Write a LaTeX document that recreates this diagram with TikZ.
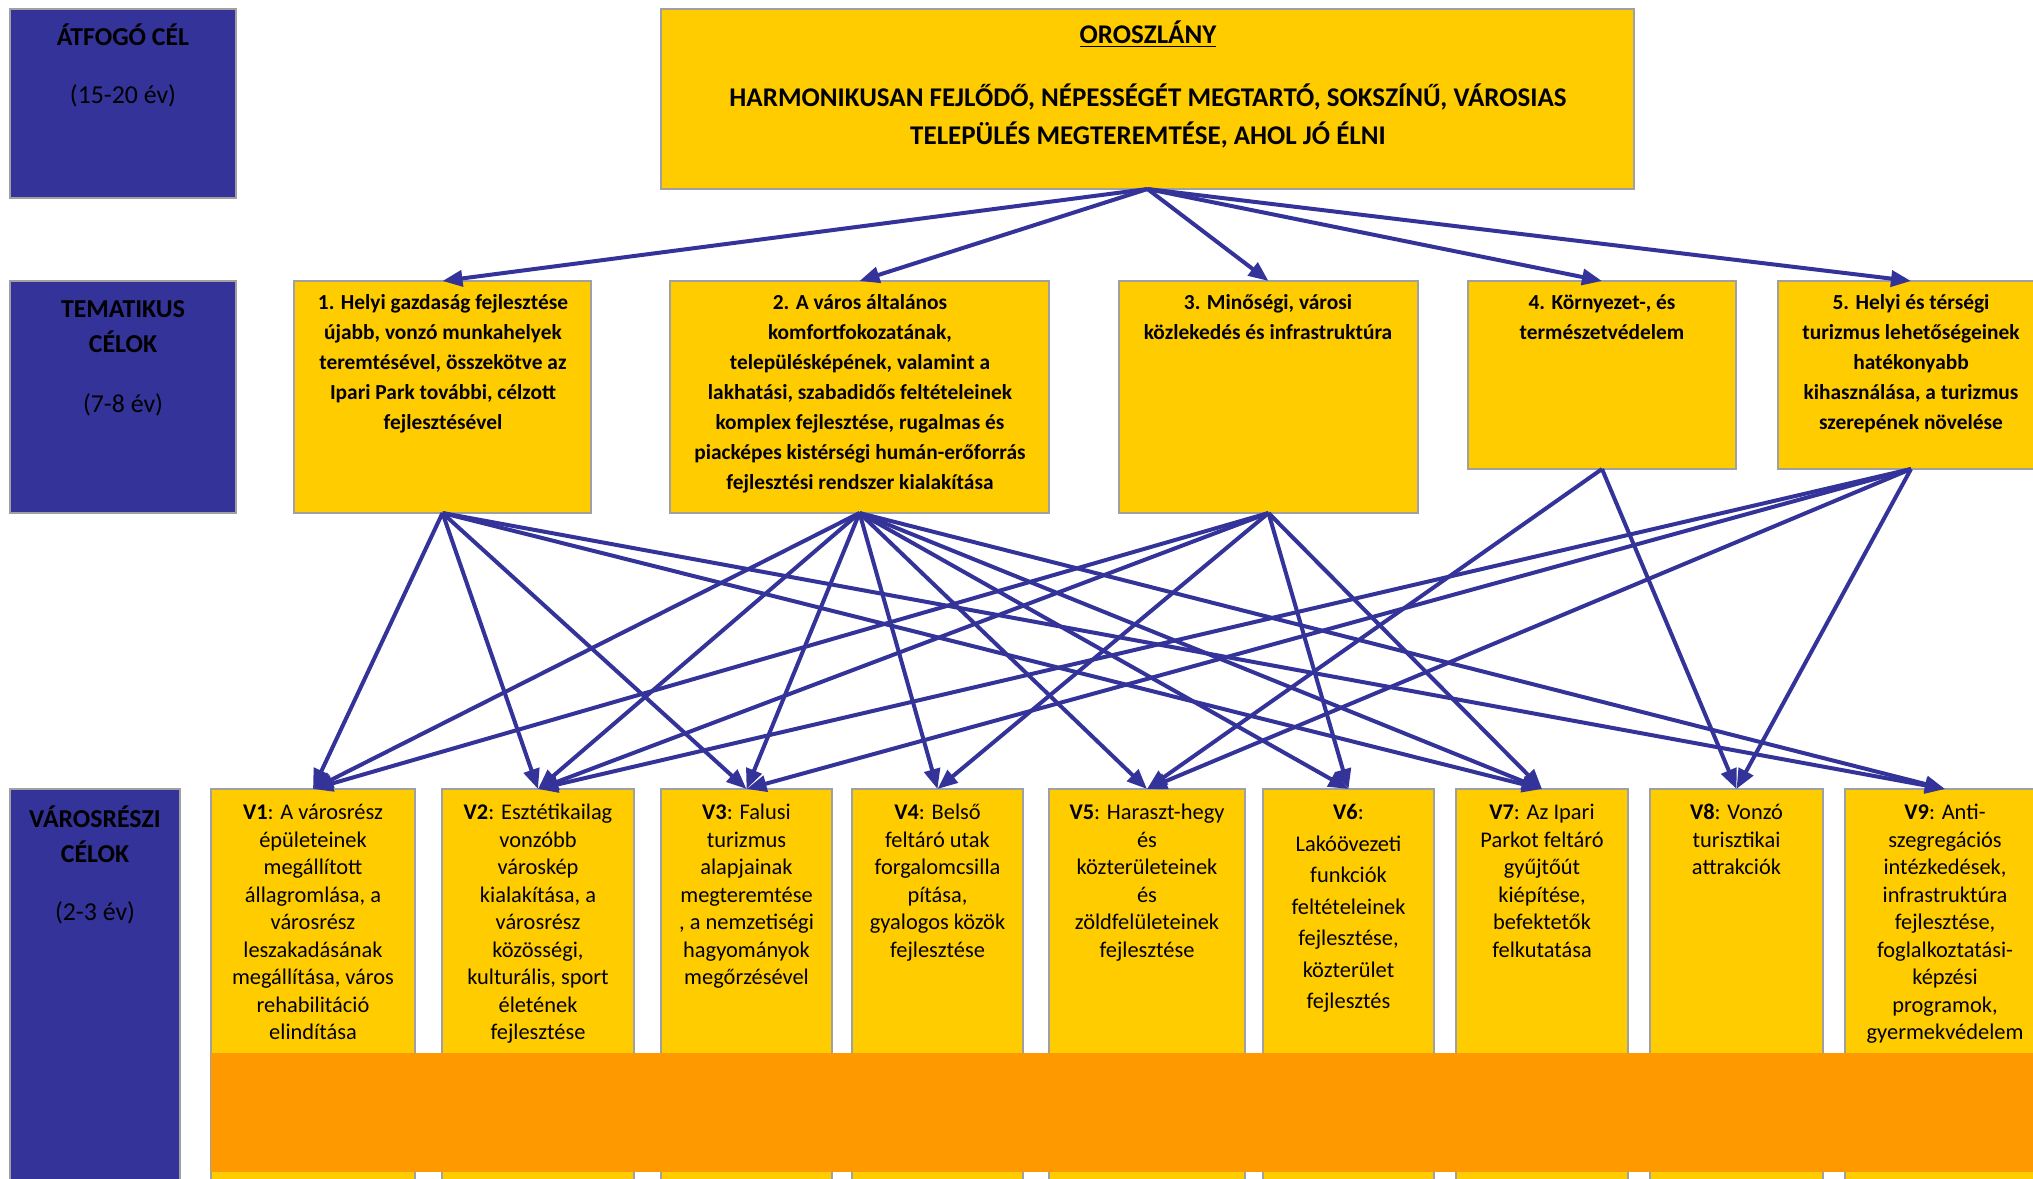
\documentclass[tikz,border=0pt]{standalone}
\usepackage{fontspec}
\setmainfont{Carlito}
\usetikzlibrary{arrows.meta}
\definecolor{ygold}{HTML}{FFCC00}
\definecolor{navy}{HTML}{333399}
\definecolor{orng}{HTML}{FF9900}
\definecolor{bgray}{HTML}{A0A0A0}
\begin{document}
\begin{tikzpicture}[x=0.5pt,y=-0.5pt,
  ybox/.style={draw=bgray, line width=1pt, fill=ygold, inner sep=0pt, outer sep=0pt, anchor=north west},
  bbox/.style={draw=bgray, line width=1pt, fill=navy, inner sep=0pt, outer sep=0pt, anchor=north west},
  lbl/.style={inner sep=0pt, align=center, font=\fontsize{12.9}{17.5}\selectfont},
  lblb/.style={lbl, font=\bfseries\fontsize{12.9}{17.5}\selectfont},
  ttxt/.style={inner sep=0pt, anchor=north, align=center, font=\bfseries\fontsize{10.7}{15}\selectfont},
  vtxt/.style={inner sep=0pt, anchor=north, align=center, font=\fontsize{11.2}{13.75}\selectfont},
  arr/.style={draw=navy, line width=2pt, -{Triangle[length=10pt,width=8pt]}}
]
\useasboundingbox (0,0) rectangle (2033,1178);
\begin{scope}
\clip (0,0) rectangle (2033,1178);
% left blue boxes
\node[bbox, minimum width=113pt, minimum height=94.5pt] (b1) at (10,9) {};
\node[bbox, minimum width=113pt, minimum height=116pt] (b2) at (10,281) {};
\node[bbox, minimum width=85pt, minimum height=210pt] (b3) at (10,789) {};
\node[lblb] (b1h) at (123,35) {ÁTFOGÓ CÉL};
\node[lbl] (b1y) at (123,96) {(15-20 év)};
\node[lblb] (b2h) at (123,326.5) {TEMATIKUS\\CÉLOK};
\node[lbl] (b2y) at (123,405) {(7-8 év)};
\node[lblb] (b3h) at (95,834.5) {VÁROSRÉSZI\\CÉLOK};
\node[lbl] (b3y) at (95,913) {(2-3 év)};
% top box
\node[ybox, minimum width=486.5pt, minimum height=90pt] (top) at (661,9) {};
\node[inner sep=0pt, font=\bfseries\fontsize{13.5}{19}\selectfont] (toph) at (1148,34) {\underline{OROSZLÁNY}};
\node[inner sep=0pt, align=center, font=\bfseries\fontsize{13.5}{19}\selectfont] (topt) at (1148,116)
  {HARMONIKUSAN FEJLŐDŐ, NÉPESSÉGÉT MEGTARTÓ, SOKSZÍNŰ, VÁROSIAS\\TELEPÜLÉS MEGTEREMTÉSE, AHOL JÓ ÉLNI};
% thematic boxes
\node[ybox, minimum width=148.5pt, minimum height=116pt] (t1) at (294,281) {};
\node[ybox, minimum width=189.5pt, minimum height=116pt] (t2) at (670,281) {};
\node[ybox, minimum width=149.5pt, minimum height=116pt] (t3) at (1119,281) {};
\node[ybox, minimum width=134pt, minimum height=94pt] (t4) at (1468,281) {};
\node[ybox, minimum width=133pt, minimum height=94pt] (t5) at (1778,281) {};
\node[ttxt] (t1x) at (443,294) {1. Helyi gazdaság fejlesztése\\újabb, vonzó munkahelyek\\teremtésével, összekötve az\\Ipari Park további, célzott\\fejlesztésével};
\node[ttxt] (t2x) at (860,294) {2. A város általános\\komfortfokozatának,\\településképének, valamint a\\lakhatási, szabadidős feltételeinek\\komplex fejlesztése, rugalmas és\\piacképes kistérségi humán-erőforrás\\fejlesztési rendszer kialakítása};
\node[ttxt] (t3x) at (1268,294) {3. Minőségi, városi\\közlekedés és infrastruktúra};
\node[ttxt] (t4x) at (1602,294) {4. Környezet-, és\\természetvédelem};
\node[ttxt] (t5x) at (1911,294) {5. Helyi és térségi\\turizmus lehetőségeinek\\hatékonyabb\\kihasználása, a turizmus\\szerepének növelése};
% district boxes
\node[ybox, minimum width=102pt, minimum height=210pt] (v1) at (211,789) {};
\node[ybox, minimum width=96pt, minimum height=210pt] (v2) at (442,789) {};
\node[ybox, minimum width=85.5pt, minimum height=210pt] (v3) at (661,789) {};
\node[ybox, minimum width=85.5pt, minimum height=210pt] (v4) at (852,789) {};
\node[ybox, minimum width=98pt, minimum height=210pt] (v5) at (1049,789) {};
\node[ybox, minimum width=85.5pt, minimum height=210pt] (v6) at (1263,789) {};
\node[ybox, minimum width=86pt, minimum height=210pt] (v7) at (1456,789) {};
\node[ybox, minimum width=86.5pt, minimum height=210pt] (v8) at (1650,789) {};
\node[ybox, minimum width=100pt, minimum height=210pt] (v9) at (1845,789) {};
\node[vtxt] (v1x) at (v1.north |- 0,804) {\textbf{V1}: A városrész\\épületeinek\\megállított\\állagromlása, a\\városrész\\leszakadásának\\megállítása, város\\rehabilitáció\\elindítása};
\node[vtxt] (v2x) at (v2.north |- 0,804) {\textbf{V2}: Esztétikailag\\vonzóbb\\városkép\\kialakítása, a\\városrész\\közösségi,\\kulturális, sport\\életének\\fejlesztése};
\node[vtxt] (v3x) at (v3.north |- 0,804) {\textbf{V3}: Falusi\\turizmus\\alapjainak\\megteremtése\\, a nemzetiségi\\hagyományok\\megőrzésével};
\node[vtxt] (v4x) at (v4.north |- 0,804) {\textbf{V4}: Belső\\feltáró utak\\forgalomcsilla\\pítása,\\gyalogos közök\\fejlesztése};
\node[vtxt] (v5x) at (v5.north |- 0,804) {\textbf{V5}: Haraszt-hegy\\és\\közterületeinek\\és\\zöldfelületeinek\\fejlesztése};
\node[vtxt, font=\fontsize{11.2}{15.75}\selectfont] (v6x) at (v6.north |- 0,804) {\textbf{V6}:\\Lakóövezeti\\funkciók\\feltételeinek\\fejlesztése,\\közterület\\fejlesztés};
\node[vtxt] (v7x) at (v7.north |- 0,804) {\textbf{V7}: Az Ipari\\Parkot feltáró\\gyűjtőút\\kiépítése,\\befektetők\\felkutatása};
\node[vtxt] (v8x) at (v8.north |- 0,804) {\textbf{V8}: Vonzó\\turisztikai\\attrakciók};
\node[vtxt] (v9x) at (v9.north |- 0,804) {\textbf{V9}: Anti-\\szegregációs\\intézkedések,\\infrastruktúra\\fejlesztése,\\foglalkoztatási-\\képzési\\programok,\\gyermekvédelem};
% orange band
\fill[orng] (211,1053) rectangle (2040,1172);
% arrows
\foreach \t in {t1,t2,t3,t4,t5} \draw[arr] (top.south) -- (\t.north);
\foreach \s/\d in {t1/v1,t1/v2,t1/v3,t1/v7,t1/v9,
  t2/v1,t2/v2,t2/v3,t2/v4,t2/v5,t2/v6,t2/v7,t2/v9,
  t3/v1,t3/v2,t3/v4,t3/v6,t3/v7,
  t4/v5,t4/v8,
  t5/v2,t5/v3,t5/v5,t5/v8}
  \draw[arr] (\s.south) -- (\d.north);
\end{scope}
\end{tikzpicture}
\end{document}
